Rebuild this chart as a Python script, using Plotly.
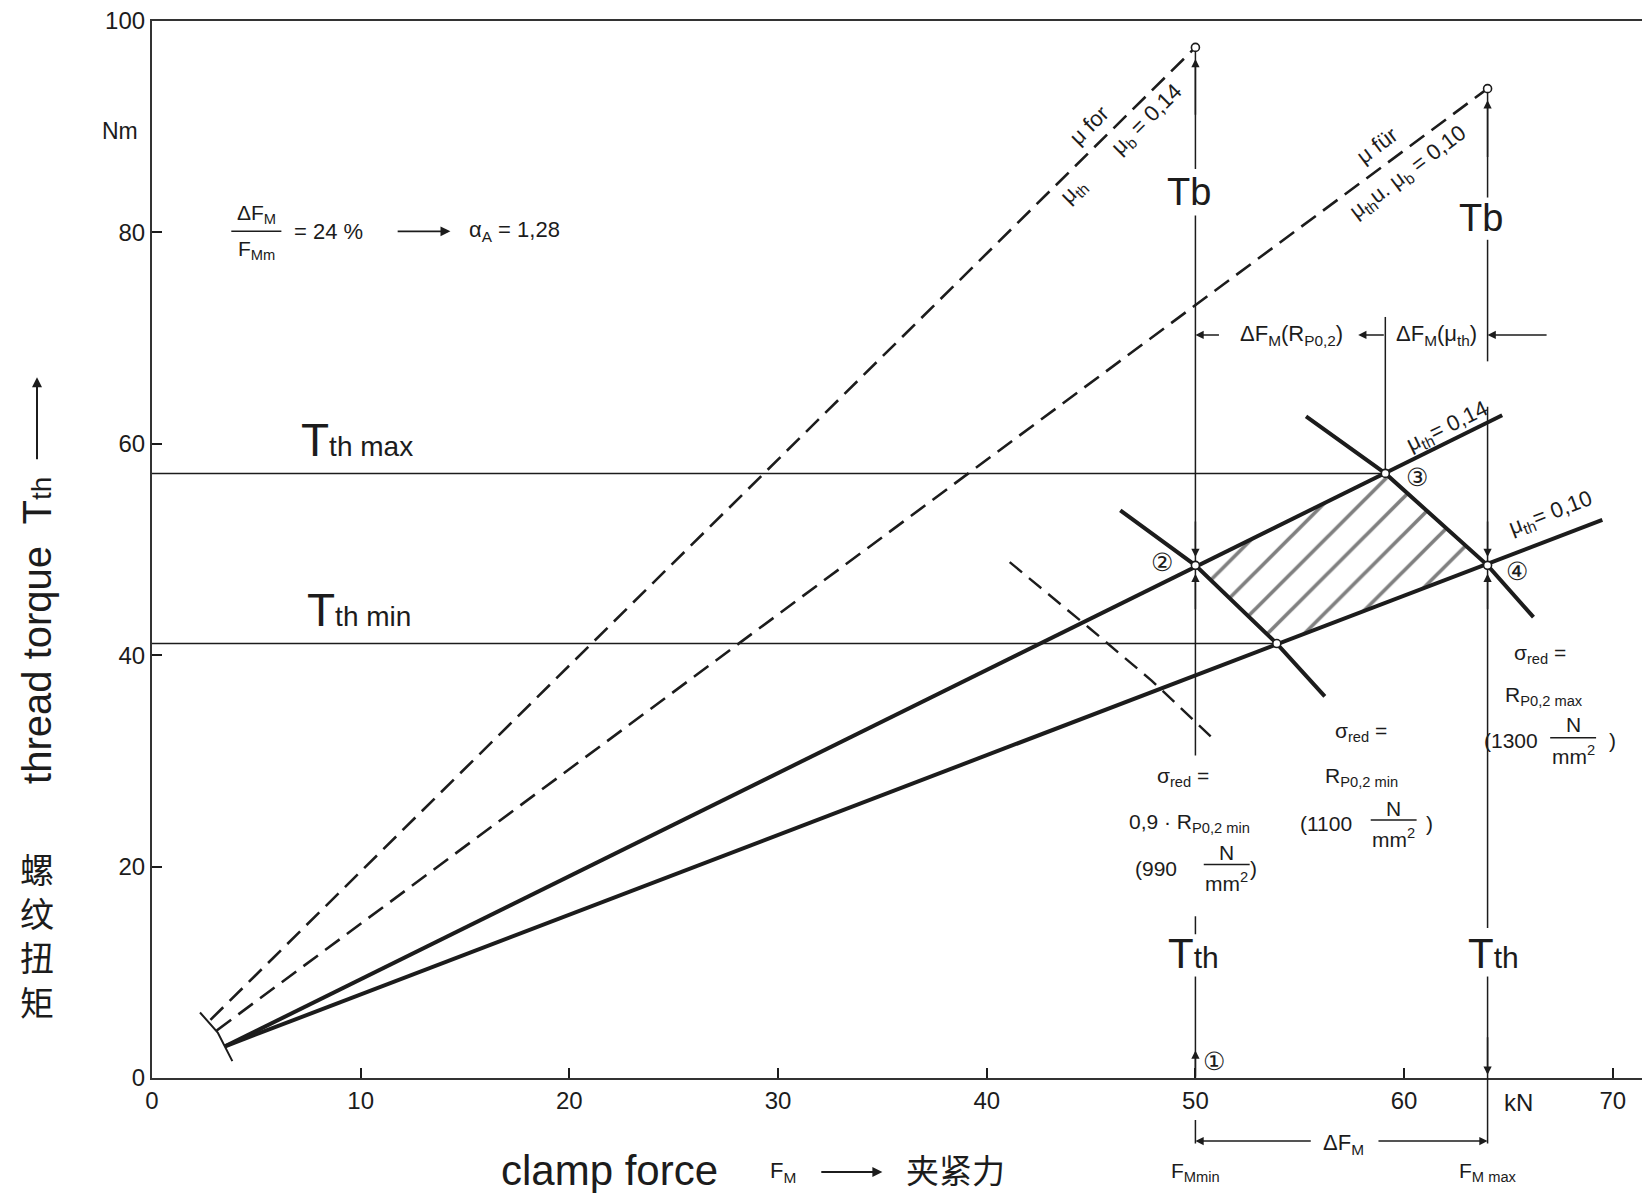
import plotly.graph_objects as go

# ---------------- data ----------------
x_ticks = [0, 10, 20, 30, 40, 50, 60, 70]
y_ticks = [0, 20, 40, 60, 80, 100]

# tightening torque lines (mu_th = mu_b), dashed
total_014_x = [2.8, 50.0]
total_014_y = [5.5, 97.5]
total_010_x = [3.1, 64.0]
total_010_y = [4.5, 93.6]

# thread torque lines, solid
thread_014_x = [3.5, 64.7]
thread_014_y = [3.0, 62.7]
thread_010_x = [3.5, 69.5]
thread_010_y = [3.0, 52.8]

# small arc at the start of the lines
start_arc_x = [2.3, 3.15, 3.85]
start_arc_y = [6.2, 4.3, 1.6]

# sigma_red = Rp0,2 min (thick)
rp_min_x = [46.4, 50.0, 53.9, 56.2]
rp_min_y = [53.7, 48.5, 41.1, 36.1]
# sigma_red = Rp0,2 max (thick)
rp_max_x = [55.3, 59.1, 64.0, 66.2]
rp_max_y = [62.6, 57.2, 48.5, 43.6]
# sigma_red = 0,9 Rp0,2 min (dashed)
rp09_x = [41.1, 44.9, 47.9, 50.8]
rp09_y = [48.8, 42.6, 37.6, 32.2]

# characteristic points (2), (3), (4) and lower corner
pt_labels = ["②", "③", "④"]
pt_label_x = [48.4, 60.6, 65.4]
pt_label_y = [48.8, 56.9, 48.0]
pt_x = [50.0, 59.1, 64.0, 53.9]
pt_y = [48.5, 57.2, 48.5, 41.1]

FM_min = 50.0
FM_mid = 59.1
FM_max = 64.0
Tth_max = 57.2
Tth_min = 41.1
dF_level = 70.3

# vertical line segments (None = gap for labels)
v50_y = [0.0, 9.6, None, 13.6, 15.3, None, 30.5, 81.6, None, 86.0, 97.5]
v64_y = [0.0, 9.6, None, 14.2, 63.5, None, 67.8, 79.3, None, 83.3, 93.6]
v59_y = [57.2, 72.0]

# ---------------- figure ----------------
BLACK = "#1c1c1c"
FONT = "Liberation Sans Narrow, Liberation Sans, Arial, sans-serif"
FONT2 = "Liberation Sans, Arial, sans-serif"
CJK = "Noto Sans CJK SC"

fig = go.Figure()


def line(x, y, width=2.0, dash="solid"):
    fig.add_trace(go.Scatter(x=x, y=y, mode="lines",
                             line=dict(color=BLACK, width=width, dash=dash),
                             hoverinfo="skip", showlegend=False,
                             connectgaps=False))


def text(x, y, s, size=22, xref="x", yref="y", angle=0, xanchor="center",
         yanchor="middle", xshift=0, yshift=0, family=FONT):
    fig.add_annotation(x=x, y=y, xref=xref, yref=yref, text=s, showarrow=False,
                       textangle=angle, font=dict(size=size, family=family, color=BLACK),
                       xanchor=xanchor, yanchor=yanchor, xshift=xshift, yshift=yshift)


def arrow(x, y, ax, ay, width=1.5, head=2, size=1.1):
    fig.add_annotation(x=x, y=y, ax=ax, ay=ay, xref="x", yref="y", axref="x", ayref="y",
                       text="", showarrow=True, arrowhead=head, arrowsize=size,
                       arrowwidth=width, arrowcolor=BLACK, standoff=0)


def frac(xc, y_num, y_bar, y_den, num, den, half=1.1, size=20):
    text(xc, y_num, num, size=size)
    text(xc, y_den, den, size=size)
    fig.add_shape(type="line", x0=xc - half, x1=xc + half, y0=y_bar, y1=y_bar,
                  line=dict(color=BLACK, width=1.5))


# hatched region
fig.add_trace(go.Scatter(x=pt_x[:3] + [pt_x[3], pt_x[0]],
                         y=pt_y[:3] + [pt_y[3], pt_y[0]],
                         mode="lines", fill="toself", line=dict(width=0),
                         fillcolor="rgba(0,0,0,0)",
                         fillpattern=dict(shape="/", size=26, solidity=0.14,
                                          fgcolor="#000000"),
                         hoverinfo="skip", showlegend=False))

# horizontal thin lines
line([0, FM_mid], [Tth_max, Tth_max], 1.5)
line([0, pt_x[3]], [Tth_min, Tth_min], 1.5)

# vertical thin lines
line([FM_min] * len(v50_y), v50_y, 1.5)
line([FM_max] * len(v64_y), v64_y, 1.5)
line([FM_mid] * len(v59_y), v59_y, 1.5)

# dashed tightening torque lines
line(total_014_x, total_014_y, 2.6, "18px,9px")
line(total_010_x, total_010_y, 2.6, "18px,9px")
# solid thread torque lines
line(thread_014_x, thread_014_y, 4.0)
line(thread_010_x, thread_010_y, 4.0)
line(start_arc_x, start_arc_y, 2.0)
# sigma_red curves
line(rp_min_x, rp_min_y, 4.0)
line(rp_max_x, rp_max_y, 4.0)
line(rp09_x, rp09_y, 2.4, "16px,9px")

# small circles
fig.add_trace(go.Scatter(x=pt_x + [total_014_x[1], total_010_x[1]],
                         y=pt_y + [total_014_y[1], total_010_y[1]],
                         mode="markers",
                         marker=dict(symbol="circle", size=8, color="white",
                                     line=dict(color=BLACK, width=1.6)),
                         hoverinfo="skip", showlegend=False))

# arrows on the vertical lines
arrow(FM_min, 96.4, FM_min, 91.0)
arrow(FM_max, 92.5, FM_max, 87.0)
arrow(FM_min, 49.3, FM_min, 52.8)
arrow(FM_min, 47.7, FM_min, 44.2)
arrow(FM_max, 49.3, FM_max, 52.8)
arrow(FM_max, 47.7, FM_max, 44.2)
arrow(FM_min, 2.6, FM_min, 0.0)
arrow(FM_max, 0.3, FM_max, 4.0)
# Delta F_M dimension arrows (top)
arrow(FM_min, dF_level, 51.2, dF_level)
arrow(57.8, dF_level, FM_mid, dF_level)
arrow(FM_max, dF_level, 66.9, dF_level)

# ---- texts inside plot ----
# formula
frac(5.0, 81.7, 80.1, 78.3, "ΔF<sub>M</sub>", "F<sub>Mm</sub>", half=1.2, size=21)
text(6.7, 80.1, "= 24 %", size=22, xanchor="left")
arrow(14.3, 80.1, 11.7, 80.1, width=1.8)
text(15.1, 80.1, "α<sub>A</sub> = 1,28", size=22, xanchor="left")

text(9.8, 60.4, "T<span style='font-size:28px'>th max</span>", size=46, family=FONT)
text(9.9, 44.3, "T<span style='font-size:28px'>th min</span>", size=46, family=FONT)

text(49.7, 83.8, "Tb", size=38)
text(63.7, 81.4, "Tb", size=38)
text(49.9, 11.8, "T<span style='font-size:30px'>th</span>", size=42)
text(64.3, 11.8, "T<span style='font-size:30px'>th</span>", size=42)

# rotated labels along dashed lines
text(44.9, 90.1, "μ for", size=22, angle=-44.8)
text(44.2, 83.9, "μ<sub>th</sub>", size=22, angle=-44.8)
text(47.7, 90.6, "μ<sub>b</sub> = 0,14", size=22, angle=-44.8)
text(58.7, 88.2, "μ für", size=22, angle=-37)
text(60.2, 85.6, "μ<sub>th</sub>u. μ<sub>b</sub> = 0,10", size=22, angle=-37)
# labels along solid lines
text(62.1, 61.6, "μ<sub>th</sub>= 0,14", size=22, angle=-26)
text(67.0, 53.4, "μ<sub>th</sub>= 0,10", size=22, angle=-21)

# Delta F_M labels (top)
text(54.6, dF_level, "ΔF<sub>M</sub>(R<sub>P0,2</sub>)", size=22)
text(61.55, dF_level, "ΔF<sub>M</sub>(μ<sub>th</sub>)", size=22)

# point labels
for lab, lx, ly in zip(pt_labels, pt_label_x, pt_label_y):
    text(lx, ly, lab, size=25)
text(50.9, 1.6, "①", size=25)

# sigma_red blocks
text(49.4, 28.5, "σ<sub>red</sub> =", size=21)
text(49.7, 24.1, "0,9 · R<sub>P0,2 min</sub>", size=21)
text(49.2, 19.8, "(990", size=21, xanchor="right")
frac(51.5, 21.3, 20.2, 18.5, "N", "mm<sup>2</sup>", half=1.1, size=21)
text(52.8, 19.8, ")", size=21)

text(57.95, 32.7, "σ<sub>red</sub> =", size=21)
text(57.95, 28.5, "R<sub>P0,2 min</sub>", size=21)
text(57.6, 24.1, "(1100", size=21, xanchor="right")
frac(59.5, 25.5, 24.4, 22.7, "N", "mm<sup>2</sup>", half=1.1, size=21)
text(61.2, 24.1, ")", size=21)

text(66.5, 40.1, "σ<sub>red</sub> =", size=21)
text(66.7, 36.1, "R<sub>P0,2 max</sub>", size=21)
text(66.5, 31.9, "(1300", size=21, xanchor="right")
frac(68.1, 33.4, 32.2, 30.6, "N", "mm<sup>2</sup>", half=1.1, size=21)
text(70.0, 31.9, ")", size=21)

# ---- texts outside plot ----
text(0, 89.6, "Nm", size=23, xref="paper", xanchor="right", xshift=-12)
text(65.5, 0, "kN", size=24, yref="paper", yshift=-24)

# extension lines below axis
fig.add_annotation(x=FM_min, y=0, xref="x", yref="y", ax=0, ay=25, axref="pixel", ayref="pixel",
                   text="", showarrow=True, arrowhead=0, arrowwidth=1.5, arrowcolor=BLACK,
                   yshift=-42, standoff=0)
fig.add_annotation(x=FM_max, y=0, xref="x", yref="y", ax=0, ay=67, axref="pixel", ayref="pixel",
                   text="", showarrow=True, arrowhead=0, arrowwidth=1.5, arrowcolor=BLACK,
                   standoff=0)
# Delta F_M dimension below axis
for tip, tail in [(FM_min, 55.6), (FM_max, 58.7)]:
    fig.add_annotation(x=tip, y=0, xref="x", yref="y", ax=tail, ay=0, axref="x", ayref="pixel",
                       text="", showarrow=True, arrowhead=2, arrowsize=1.1, arrowwidth=1.5,
                       arrowcolor=BLACK, yshift=-63, standoff=0)
text(57.1, 0, "ΔF<sub>M</sub>", size=22, yref="paper", yshift=-66)
text(FM_min, 0, "F<sub>Mmin</sub>", size=21, yref="paper", yshift=-94)
text(FM_max, 0, "F<sub>M max</sub>", size=21, yref="paper", yshift=-94)

# x title
text(21.9, 0, "clamp force", size=42, yref="paper", yshift=-92, family=FONT2)
text(30.25, 0, "F<sub>M</sub>", size=22, yref="paper", yshift=-94)
fig.add_annotation(x=35.0, y=0, xref="x", yref="paper", ax=32.0, ay=0, axref="x", ayref="pixel",
                   text="", showarrow=True, arrowhead=2, arrowsize=1.0, arrowwidth=2,
                   arrowcolor=BLACK, yshift=-94, standoff=0)
text(38.5, 0, "夹紧力", size=33, yref="paper", yshift=-91, family=CJK)

# y title
text(0, 42.3, "thread torque  T<span style='font-size:28px'>th</span>", size=40,
     xref="paper", xshift=-115, angle=-90, family=FONT2)
fig.add_annotation(x=0, y=66.3, xref="paper", yref="y", ax=0, ay=58.4, axref="pixel", ayref="y",
                   text="", showarrow=True, arrowhead=2, arrowsize=1.0, arrowwidth=2,
                   arrowcolor=BLACK, xshift=-115, standoff=0)
text(0, 13.5, "螺<br>纹<br>扭<br>矩", size=34, xref="paper", xshift=-115, family=CJK)

fig.update_layout(
    width=1642, height=1193,
    margin=dict(l=152, r=0, t=21, b=115, autoexpand=False),
    paper_bgcolor="white", plot_bgcolor="white",
    showlegend=False,
    xaxis=dict(range=[0, 71.4], tickvals=x_ticks, ticktext=[str(v) for v in x_ticks],
               ticks="inside", ticklen=10, tickwidth=1.5, tickcolor=BLACK,
               showline=True, linecolor="#333333", linewidth=2.2, mirror=True,
               showgrid=False, zeroline=False,
               tickfont=dict(size=24, family=FONT, color=BLACK)),
    yaxis=dict(range=[0, 100], tickvals=y_ticks, ticktext=[str(v) for v in y_ticks],
               ticks="inside", ticklen=10, tickwidth=1.5, tickcolor=BLACK,
               showline=True, linecolor="#333333", linewidth=2.2, mirror=False,
               showgrid=False, zeroline=False,
               tickfont=dict(size=24, family=FONT, color=BLACK)),
)

fig.write_html("out.html")
